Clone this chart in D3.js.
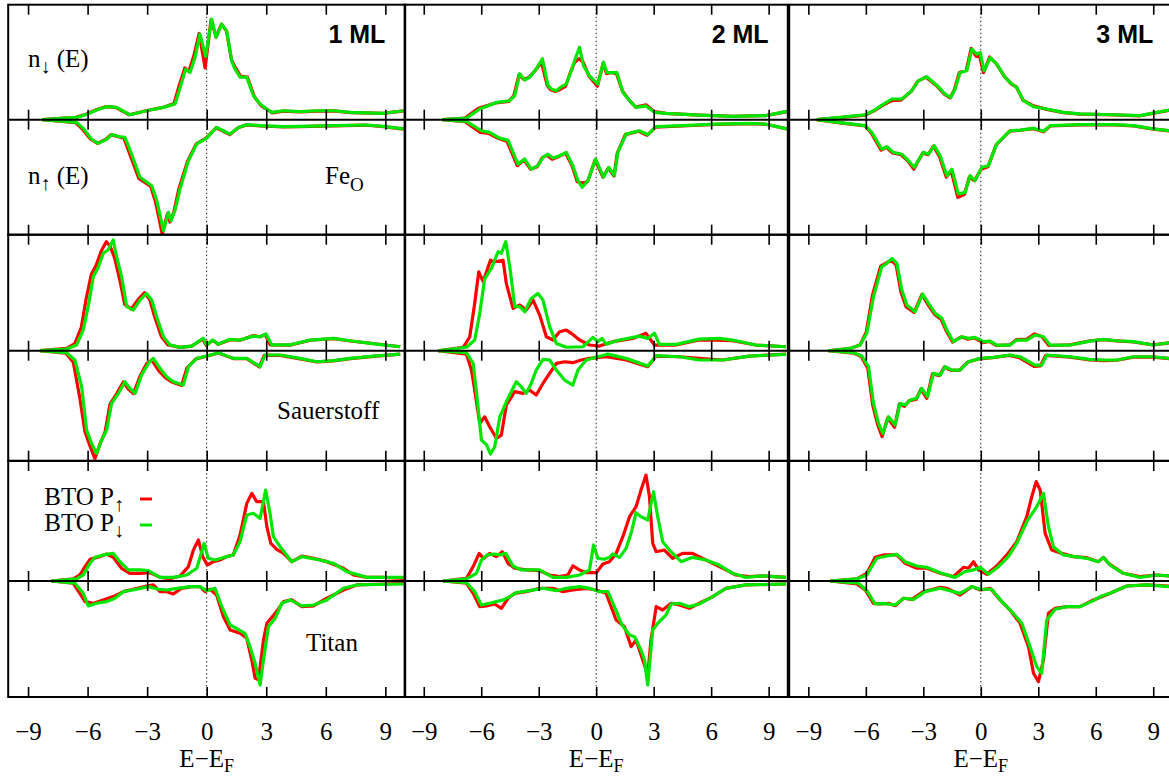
<!DOCTYPE html>
<html>
<head>
<meta charset="utf-8">
<script src="https://cdn.jsdelivr.net/npm/d3@7"></script>
<style>
    body { margin: 0; background: #fff; }
</style>
</head>
<body>
<div id="dosGrid"></div>
<script>

// tick energies and labels
var tickEnergies = [-9, -6, -3, 0, 3, 6, 9];
var columnTitles = ["1 ML", "2 ML", "3 ML"];
var rowLabels = [["Fe", "O"], ["Sauerstoff", ""], ["Titan", ""]];
var spinLabels = [["n", "\u2193", " (E)"], ["n", "\u2191", " (E)"]];
var legendLabels = [["BTO P", "\u2191"], ["BTO P", "\u2193"]];
var xLabel = ["E\u2212E", "F"];

// DOS curves, [E - E_F, value]; up half = n_down, lower half = -n_up
// R = BTO P-up (red), G = BTO P-down (green)

// ---- Fe_O ----
var fe1_upR = [[-8.27,0],[-6.6,0.02],[-6.05,0.05],[-5.6,0.084],[-5.1,0.113],[-4.6,0.107],[-3.9,0.043],[-3.05,0.078],[-2.2,0.107],[-1.65,0.14],[-1.4,0.29],[-1.1,0.45],[-0.9,0.42],[-0.64,0.56],[-0.38,0.75],[-0.08,0.45],[0.22,0.87],[0.47,0.72],[0.74,0.83],[1.0,0.77],[1.25,0.52],[1.45,0.45],[1.7,0.38],[2.05,0.37],[2.4,0.2],[2.75,0.12],[3.0,0.095],[3.3,0.06],[3.87,0.075],[4.7,0.068],[5.55,0.075],[6.4,0.076],[7.23,0.062],[8.9,0.055],[9.92,0.076]];
var fe1_upG = [[-8.27,0],[-6.55,0.02],[-6.0,0.05],[-5.55,0.084],[-5.04,0.113],[-4.54,0.107],[-3.87,0.043],[-3.03,0.078],[-2.18,0.107],[-1.6,0.136],[-1.34,0.28],[-1.06,0.44],[-0.84,0.41],[-0.59,0.54],[-0.34,0.745],[-0.05,0.55],[0.25,0.875],[0.47,0.716],[0.76,0.83],[1.01,0.77],[1.26,0.51],[1.43,0.44],[1.68,0.37],[2.02,0.37],[2.35,0.21],[2.69,0.136],[3.03,0.093],[3.28,0.064],[3.87,0.078],[4.7,0.07],[5.55,0.078],[6.4,0.078],[7.23,0.064],[8.9,0.055],[9.92,0.078]];
var fe1_dnR = [[-8.27,0],[-6.6,-0.025],[-6.25,-0.085],[-5.85,-0.17],[-5.5,-0.206],[-5.08,-0.17],[-4.82,-0.13],[-4.4,-0.15],[-4.17,-0.16],[-3.85,-0.31],[-3.42,-0.51],[-2.82,-0.58],[-2.57,-0.72],[-2.24,-0.995],[-1.98,-0.82],[-1.85,-0.89],[-1.65,-0.8],[-1.4,-0.6],[-0.96,-0.36],[-0.53,-0.21],[-0.03,-0.16],[0.48,-0.07],[0.82,-0.1],[1.16,-0.13],[1.58,-0.07],[2.0,-0.045],[2.69,-0.055],[3.87,-0.062],[4.7,-0.06],[6.4,-0.054],[8.07,-0.048],[8.9,-0.06],[9.92,-0.082]];
var fe1_dnG = [[-8.27,0],[-6.55,-0.023],[-6.2,-0.08],[-5.8,-0.17],[-5.46,-0.206],[-5.04,-0.17],[-4.79,-0.13],[-4.37,-0.148],[-4.12,-0.154],[-3.78,-0.3],[-3.36,-0.5],[-2.77,-0.574],[-2.52,-0.7],[-2.18,-0.965],[-1.93,-0.806],[-1.8,-0.878],[-1.6,-0.79],[-1.34,-0.6],[-0.92,-0.357],[-0.5,-0.21],[0,-0.16],[0.5,-0.067],[0.84,-0.096],[1.18,-0.125],[1.6,-0.067],[2.02,-0.043],[2.69,-0.052],[3.87,-0.06],[4.7,-0.058],[6.4,-0.052],[8.07,-0.046],[8.9,-0.058],[9.92,-0.08]];

var fe2_upR = [[-8.02,0],[-6.85,0.014],[-6.15,0.1],[-5.25,0.145],[-4.55,0.16],[-4.3,0.21],[-4.03,0.39],[-3.77,0.35],[-3.5,0.37],[-3.17,0.43],[-2.86,0.5],[-2.56,0.3],[-2.38,0.26],[-2.12,0.245],[-1.86,0.265],[-1.6,0.29],[-1.35,0.41],[-1.12,0.5],[-0.9,0.53],[-0.68,0.5],[-0.38,0.38],[0.06,0.29],[0.36,0.49],[0.54,0.4],[0.76,0.41],[1.06,0.4],[1.37,0.25],[1.72,0.17],[2.06,0.11],[2.6,0.13],[3.04,0.07],[3.65,0.055],[5.38,0.04],[7.12,0.03],[8.85,0.035],[9.95,0.07]];
var fe2_upG = [[-8.02,0],[-6.77,0.014],[-6.08,0.093],[-5.2,0.15],[-4.51,0.165],[-4.25,0.21],[-3.99,0.4],[-3.73,0.345],[-3.47,0.37],[-3.13,0.44],[-2.81,0.53],[-2.52,0.3],[-2.34,0.267],[-2.08,0.252],[-1.82,0.287],[-1.56,0.31],[-1.3,0.426],[-1.09,0.53],[-0.87,0.63],[-0.66,0.47],[-0.35,0.38],[0.09,0.31],[0.38,0.5],[0.56,0.41],[0.78,0.41],[1.08,0.41],[1.39,0.24],[1.74,0.165],[2.08,0.107],[2.6,0.12],[3.04,0.064],[3.65,0.055],[5.38,0.04],[7.12,0.029],[8.85,0.035],[9.95,0.072]];
var fe2_dnR = [[-8.02,0],[-6.85,-0.018],[-6.05,-0.11],[-5.6,-0.12],[-5.15,-0.16],[-4.65,-0.19],[-4.12,-0.4],[-3.77,-0.35],[-3.43,-0.43],[-3.08,-0.41],[-2.82,-0.33],[-2.56,-0.31],[-2.3,-0.345],[-1.95,-0.32],[-1.6,-0.29],[-1.26,-0.4],[-0.99,-0.54],[-0.75,-0.55],[-0.45,-0.54],[-0.06,-0.35],[0.35,-0.5],[0.64,-0.42],[0.93,-0.49],[1.1,-0.29],[1.52,-0.13],[2.22,-0.1],[2.66,-0.135],[3.1,-0.065],[4.51,-0.055],[6.25,-0.04],[7.99,-0.034],[8.85,-0.04],[9.95,-0.08]];
var fe2_dnG = [[-8.02,0],[-6.77,-0.014],[-5.99,-0.096],[-5.56,-0.11],[-5.12,-0.154],[-4.6,-0.18],[-4.08,-0.386],[-3.73,-0.342],[-3.39,-0.43],[-3.04,-0.4],[-2.78,-0.328],[-2.52,-0.3],[-2.26,-0.333],[-1.91,-0.313],[-1.56,-0.284],[-1.22,-0.4],[-0.95,-0.53],[-0.73,-0.588],[-0.43,-0.53],[-0.03,-0.342],[0.38,-0.5],[0.66,-0.414],[0.95,-0.487],[1.13,-0.284],[1.56,-0.125],[2.26,-0.096],[2.69,-0.13],[3.13,-0.06],[4.51,-0.052],[6.25,-0.038],[7.99,-0.032],[8.85,-0.038],[9.95,-0.08]];

var fe3_upR = [[-8.56,0],[-7.34,0.018],[-6.03,0.04],[-5.6,0.075],[-5.12,0.125],[-4.68,0.165],[-4.16,0.17],[-3.64,0.245],[-3.28,0.335],[-2.86,0.37],[-2.34,0.3],[-1.9,0.223],[-1.6,0.19],[-1.38,0.26],[-1.12,0.41],[-0.76,0.43],[-0.5,0.62],[-0.24,0.55],[-0.06,0.55],[0.14,0.41],[0.46,0.545],[0.8,0.49],[1.24,0.375],[1.6,0.31],[1.86,0.285],[2.2,0.17],[2.75,0.12],[3.44,0.09],[4.31,0.062],[5.18,0.048],[6.92,0.042],[8.31,0.034],[9.18,0.062],[9.83,0.082]];
var fe3_upG = [[-8.56,0],[-7.34,0.02],[-6.03,0.043],[-5.6,0.078],[-5.08,0.136],[-4.64,0.18],[-4.12,0.18],[-3.6,0.252],[-3.25,0.34],[-2.82,0.374],[-2.3,0.3],[-1.86,0.223],[-1.57,0.194],[-1.34,0.267],[-1.08,0.41],[-0.73,0.426],[-0.47,0.614],[-0.21,0.57],[-0.03,0.585],[0.17,0.426],[0.49,0.54],[0.83,0.484],[1.27,0.368],[1.62,0.31],[1.88,0.28],[2.23,0.165],[2.75,0.113],[3.44,0.093],[4.31,0.064],[5.18,0.05],[6.92,0.043],[8.31,0.035],[9.18,0.064],[9.83,0.084]];
var fe3_dnR = [[-8.56,0],[-7.34,-0.028],[-6.03,-0.055],[-5.72,-0.115],[-5.2,-0.265],[-4.93,-0.24],[-4.6,-0.29],[-4.16,-0.305],[-3.8,-0.36],[-3.5,-0.43],[-3.03,-0.29],[-2.76,-0.305],[-2.47,-0.23],[-2.16,-0.32],[-1.8,-0.5],[-1.55,-0.44],[-1.2,-0.675],[-0.86,-0.65],[-0.6,-0.5],[-0.33,-0.53],[0.02,-0.43],[0.37,-0.41],[0.8,-0.22],[1.5,-0.1],[2.05,-0.092],[2.75,-0.078],[3.27,-0.105],[3.62,-0.055],[5.18,-0.045],[6.92,-0.045],[7.97,-0.054],[9.0,-0.082],[9.83,-0.098]];
var fe3_dnG = [[-8.56,0],[-7.34,-0.026],[-6.03,-0.052],[-5.69,-0.11],[-5.17,-0.255],[-4.9,-0.235],[-4.56,-0.284],[-4.12,-0.3],[-3.77,-0.357],[-3.48,-0.414],[-3.0,-0.284],[-2.73,-0.3],[-2.43,-0.226],[-2.12,-0.313],[-1.77,-0.487],[-1.51,-0.43],[-1.17,-0.646],[-0.82,-0.632],[-0.56,-0.487],[-0.3,-0.53],[0.05,-0.414],[0.4,-0.4],[0.83,-0.21],[1.53,-0.096],[2.05,-0.09],[2.75,-0.075],[3.27,-0.1],[3.62,-0.052],[5.18,-0.043],[6.92,-0.043],[7.97,-0.052],[9.0,-0.08],[9.83,-0.096]];

// ---- Sauerstoff ----
var ox1_upR = [[-8.4,0],[-7.06,0.02],[-6.65,0.06],[-6.32,0.2],[-6.07,0.45],[-5.81,0.66],[-5.56,0.74],[-5.31,0.86],[-5.06,0.94],[-4.86,0.9],[-4.64,0.8],[-4.39,0.62],[-4.13,0.4],[-3.8,0.36],[-3.46,0.44],[-3.13,0.5],[-2.87,0.44],[-2.62,0.29],[-2.28,0.12],[-1.95,0.05],[-1.34,0.029],[-0.76,0.04],[-0.2,0.1],[-0.02,0.045],[0.3,0.09],[0.59,0.055],[1.18,0.095],[1.68,0.09],[2.35,0.13],[2.69,0.12],[2.95,0.14],[3.2,0.05],[4.2,0.048],[5.21,0.09],[6.39,0.104],[7.23,0.084],[8.57,0.058],[9.75,0.034]];
var ox1_upG = [[-8.4,0],[-7.06,0.014],[-6.55,0.05],[-6.22,0.18],[-5.97,0.38],[-5.71,0.64],[-5.46,0.72],[-5.21,0.84],[-4.96,0.87],[-4.71,0.954],[-4.54,0.81],[-4.29,0.64],[-4.03,0.38],[-3.7,0.35],[-3.36,0.437],[-3.03,0.494],[-2.77,0.437],[-2.52,0.293],[-2.18,0.12],[-1.85,0.05],[-1.34,0.029],[-0.76,0.04],[-0.17,0.106],[0,0.05],[0.3,0.092],[0.59,0.057],[1.18,0.098],[1.68,0.092],[2.35,0.126],[2.69,0.12],[2.99,0.144],[3.28,0.05],[4.2,0.05],[5.21,0.092],[6.39,0.106],[7.23,0.086],[8.57,0.057],[9.75,0.034]];
var ox1_dnR = [[-8.4,0],[-7.1,-0.02],[-6.72,-0.1],[-6.4,-0.4],[-6.13,-0.7],[-5.88,-0.82],[-5.63,-0.93],[-5.37,-0.8],[-5.12,-0.7],[-4.87,-0.46],[-4.53,-0.37],[-4.2,-0.27],[-3.95,-0.33],[-3.69,-0.37],[-3.36,-0.22],[-3.02,-0.11],[-2.77,-0.08],[-2.43,-0.17],[-2.1,-0.23],[-1.76,-0.27],[-1.26,-0.3],[-1.0,-0.15],[-0.55,-0.07],[0,-0.048],[0.59,-0.02],[1.34,-0.068],[2.02,-0.068],[2.65,-0.14],[2.9,-0.04],[3.7,-0.04],[4.71,-0.07],[5.55,-0.097],[6.39,-0.088],[7.23,-0.068],[8.4,-0.048],[9.75,-0.03]];
var ox1_dnG = [[-8.4,0],[-7.06,-0.017],[-6.64,-0.08],[-6.3,-0.31],[-6.05,-0.684],[-5.8,-0.8],[-5.55,-0.885],[-5.29,-0.77],[-5.04,-0.684],[-4.79,-0.454],[-4.45,-0.368],[-4.12,-0.267],[-3.87,-0.325],[-3.61,-0.368],[-3.28,-0.21],[-2.94,-0.11],[-2.69,-0.066],[-2.35,-0.152],[-2.02,-0.224],[-1.68,-0.267],[-1.18,-0.296],[-0.92,-0.138],[-0.5,-0.066],[0,-0.046],[0.59,-0.017],[1.34,-0.066],[2.02,-0.066],[2.69,-0.138],[2.94,-0.037],[3.7,-0.037],[4.71,-0.066],[5.55,-0.095],[6.39,-0.086],[7.23,-0.066],[8.4,-0.046],[9.75,-0.029]];

var ox2_upR = [[-8.25,0],[-6.94,0.03],[-6.6,0.12],[-6.34,0.41],[-6.13,0.68],[-5.9,0.595],[-5.52,0.78],[-5.3,0.767],[-4.86,0.78],[-4.69,0.58],[-4.34,0.365],[-3.99,0.394],[-3.65,0.35],[-3.3,0.437],[-2.95,0.307],[-2.6,0.12],[-2.26,0.092],[-1.91,0.164],[-1.56,0.178],[-1.3,0.15],[-0.87,0.092],[-0.35,0.049],[0.17,0.04],[0.87,0.078],[1.91,0.106],[2.6,0.15],[3.04,0.049],[4.17,0.049],[5.38,0.092],[6.25,0.092],[7.12,0.086],[8.33,0.049],[9.9,0.034]];
var ox2_upG = [[-8.25,0],[-6.77,0.03],[-6.34,0.092],[-6.08,0.32],[-5.82,0.62],[-5.47,0.71],[-5.12,0.853],[-4.95,0.84],[-4.72,0.94],[-4.51,0.724],[-4.25,0.38],[-3.99,0.38],[-3.73,0.336],[-3.39,0.45],[-3.04,0.494],[-2.78,0.437],[-2.43,0.207],[-2.08,0.063],[-1.56,0.03],[-0.69,0.034],[-0.17,0.115],[0.09,0.078],[0.3,0.106],[0.52,0.057],[1.22,0.092],[2.26,0.126],[2.69,0.106],[3.04,0.15],[3.3,0.055],[4.17,0.055],[5.38,0.1],[6.42,0.106],[7.12,0.092],[8.33,0.049],[9.9,0.034]];
var ox2_dnR = [[-8.25,0],[-6.77,-0.03],[-6.51,-0.167],[-6.34,-0.34],[-6.08,-0.626],[-5.82,-0.57],[-5.56,-0.655],[-5.21,-0.755],[-4.95,-0.727],[-4.69,-0.468],[-4.25,-0.353],[-3.82,-0.368],[-3.47,-0.34],[-3.13,-0.382],[-2.78,-0.282],[-2.43,-0.195],[-2.08,-0.109],[-1.65,-0.095],[-1.22,-0.103],[-0.78,-0.08],[-0.35,-0.066],[0.52,-0.052],[1.56,-0.08],[2.69,-0.138],[3.13,-0.046],[4.34,-0.052],[5.38,-0.066],[6.6,-0.08],[7.99,-0.046],[9.9,-0.029]];
var ox2_dnG = [[-8.25,0],[-6.77,-0.017],[-6.42,-0.11],[-6.22,-0.4],[-5.99,-0.77],[-5.73,-0.81],[-5.52,-0.89],[-5.3,-0.83],[-5.03,-0.57],[-4.69,-0.44],[-4.17,-0.267],[-3.91,-0.31],[-3.65,-0.368],[-3.39,-0.282],[-3.13,-0.167],[-2.78,-0.075],[-2.43,-0.08],[-2.08,-0.167],[-1.65,-0.253],[-1.22,-0.296],[-0.95,-0.167],[-0.52,-0.08],[0,-0.057],[0.61,-0.029],[1.56,-0.066],[2.69,-0.132],[3.13,-0.043],[4.34,-0.052],[5.38,-0.08],[6.6,-0.08],[7.99,-0.046],[9.9,-0.032]];

var ox3_upR = [[-7.95,0],[-6.82,0.02],[-6.3,0.05],[-5.98,0.16],[-5.65,0.48],[-5.22,0.73],[-4.95,0.755],[-4.68,0.78],[-4.42,0.74],[-4.16,0.5],[-3.9,0.38],[-3.48,0.33],[-3.07,0.485],[-2.77,0.4],[-2.42,0.315],[-2.07,0.27],[-1.8,0.17],[-1.47,0.075],[-1.03,0.12],[-0.68,0.1],[-0.34,0.11],[0.1,0.07],[0.45,0.08],[0.8,0.045],[1.5,0.05],[1.85,0.095],[2.4,0.1],[2.8,0.145],[3.2,0.12],[3.55,0.045],[4.66,0.05],[5.7,0.085],[6.4,0.095],[7.1,0.085],[7.97,0.075],[9.0,0.05],[9.83,0.068]];
var ox3_upG = [[-7.95,0],[-6.82,0.02],[-6.3,0.049],[-5.95,0.15],[-5.6,0.466],[-5.17,0.724],[-4.9,0.753],[-4.64,0.796],[-4.38,0.753],[-4.12,0.523],[-3.86,0.394],[-3.43,0.336],[-3.03,0.489],[-2.73,0.408],[-2.38,0.322],[-2.03,0.279],[-1.77,0.178],[-1.43,0.078],[-0.99,0.12],[-0.64,0.106],[-0.3,0.115],[0.14,0.078],[0.49,0.083],[0.83,0.049],[1.53,0.049],[1.88,0.092],[2.4,0.092],[2.83,0.135],[3.27,0.12],[3.62,0.049],[4.66,0.049],[5.7,0.083],[6.4,0.098],[7.1,0.086],[7.97,0.078],[9.0,0.049],[9.83,0.069]];
var ox3_dnR = [[-7.95,0],[-6.64,-0.02],[-6.24,-0.05],[-5.9,-0.15],[-5.64,-0.47],[-5.38,-0.64],[-5.15,-0.74],[-4.86,-0.58],[-4.5,-0.66],[-4.25,-0.46],[-3.99,-0.48],[-3.73,-0.43],[-3.38,-0.42],[-3.12,-0.33],[-2.82,-0.41],[-2.52,-0.2],[-2.16,-0.215],[-1.9,-0.14],[-1.55,-0.17],[-1.12,-0.17],[-0.7,-0.1],[-0.08,-0.07],[0.6,-0.06],[1.5,-0.04],[2.0,-0.06],[2.78,-0.135],[3.12,-0.13],[3.38,-0.04],[4.66,-0.055],[5.7,-0.08],[6.4,-0.085],[7.1,-0.082],[7.97,-0.055],[9.0,-0.055],[9.83,-0.068]];
var ox3_dnG = [[-7.95,0],[-6.64,-0.017],[-6.21,-0.046],[-5.86,-0.138],[-5.6,-0.454],[-5.34,-0.626],[-5.11,-0.713],[-4.82,-0.569],[-4.47,-0.64],[-4.21,-0.454],[-3.95,-0.468],[-3.69,-0.425],[-3.34,-0.41],[-3.08,-0.325],[-2.78,-0.397],[-2.47,-0.195],[-2.12,-0.21],[-1.86,-0.138],[-1.51,-0.167],[-1.08,-0.167],[-0.64,-0.095],[-0.03,-0.066],[0.66,-0.057],[1.53,-0.037],[2.05,-0.052],[2.83,-0.124],[3.18,-0.124],[3.44,-0.037],[4.66,-0.052],[5.7,-0.075],[6.4,-0.08],[7.1,-0.08],[7.97,-0.052],[9.0,-0.052],[9.83,-0.066]];

// ---- Titan ----
var ti1_upR = [[-7.82,0],[-6.72,0.017],[-6.39,0.05],[-6.13,0.12],[-5.88,0.18],[-5.38,0.203],[-5.04,0.225],[-4.71,0.197],[-4.29,0.106],[-3.87,0.064],[-3.36,0.064],[-2.86,0.07],[-2.35,0.03],[-1.85,0.019],[-1.34,0.042],[-0.92,0.12],[-0.67,0.258],[-0.42,0.342],[-0.2,0.203],[0.03,0.133],[0.34,0.161],[0.67,0.175],[1.01,0.203],[1.34,0.217],[1.68,0.383],[2.02,0.647],[2.27,0.73],[2.52,0.661],[2.86,0.661],[3.03,0.453],[3.23,0.314],[3.53,0.264],[3.87,0.23],[4.29,0.161],[4.79,0.208],[5.38,0.189],[6.05,0.161],[6.89,0.106],[7.39,0.05],[8.07,0.03],[8.9,0.03],[9.92,0.022]];
var ti1_upG = [[-7.82,0],[-6.55,0.017],[-6.22,0.05],[-5.88,0.147],[-5.63,0.197],[-5.21,0.217],[-4.71,0.23],[-4.37,0.161],[-3.95,0.092],[-3.36,0.092],[-2.94,0.086],[-2.35,0.03],[-1.68,0.03],[-1.01,0.05],[-0.5,0.106],[-0.25,0.244],[-0.13,0.314],[0.08,0.189],[0.42,0.175],[1.01,0.203],[1.34,0.217],[1.68,0.328],[2.02,0.55],[2.35,0.564],[2.69,0.522],[2.97,0.758],[3.19,0.564],[3.36,0.369],[3.7,0.286],[4.29,0.161],[4.79,0.203],[5.71,0.175],[6.39,0.147],[7.06,0.078],[8.07,0.03],[9.92,0.03]];
var ti1_dnR = [[-7.82,0],[-6.72,-0.019],[-6.39,-0.103],[-6.13,-0.172],[-5.71,-0.186],[-5.21,-0.158],[-4.71,-0.13],[-4.2,-0.089],[-3.7,-0.069],[-3.03,-0.042],[-2.69,-0.033],[-2.35,-0.089],[-2.02,-0.089],[-1.68,-0.108],[-1.26,-0.061],[-0.76,-0.047],[-0.34,-0.047],[-0.08,-0.089],[0.17,-0.069],[0.5,-0.117],[0.84,-0.297],[1.18,-0.408],[1.68,-0.436],[2.02,-0.478],[2.27,-0.658],[2.44,-0.81],[2.61,-0.825],[2.86,-0.492],[3.03,-0.353],[3.45,-0.27],[3.87,-0.172],[4.29,-0.158],[4.79,-0.214],[5.38,-0.208],[6.05,-0.144],[6.89,-0.075],[7.56,-0.033],[8.9,-0.025],[9.92,-0.019]];
var ti1_dnG = [[-7.82,0],[-6.64,-0.019],[-6.22,-0.103],[-5.97,-0.208],[-5.55,-0.186],[-5.04,-0.172],[-4.62,-0.144],[-4.2,-0.089],[-3.53,-0.069],[-2.94,-0.047],[-2.44,-0.069],[-2.02,-0.075],[-1.51,-0.061],[-0.84,-0.047],[-0.34,-0.047],[0,-0.081],[0.42,-0.061],[0.76,-0.214],[1.18,-0.367],[1.51,-0.397],[1.93,-0.436],[2.18,-0.547],[2.44,-0.686],[2.69,-0.867],[2.86,-0.658],[3.11,-0.381],[3.45,-0.311],[3.78,-0.186],[4.2,-0.158],[4.79,-0.208],[5.38,-0.2],[6.05,-0.158],[6.89,-0.061],[7.56,-0.033],[9.92,-0.025]];

var ti2_upR = [[-7.99,0],[-6.77,0.022],[-6.42,0.12],[-6.11,0.23],[-5.87,0.186],[-5.56,0.23],[-5.21,0.203],[-4.9,0.244],[-4.6,0.147],[-4.25,0.106],[-3.65,0.092],[-2.95,0.086],[-2.43,0.05],[-1.91,0.036],[-1.48,0.05],[-1.22,0.125],[-0.87,0.092],[-0.52,0.069],[0,0.069],[0.35,0.142],[0.69,0.161],[1.04,0.23],[1.39,0.369],[1.74,0.536],[2.08,0.619],[2.34,0.758],[2.6,0.883],[2.78,0.703],[2.95,0.314],[3.13,0.244],[3.56,0.258],[3.99,0.189],[4.51,0.23],[5.03,0.23],[5.38,0.203],[6.08,0.147],[6.77,0.092],[7.29,0.05],[7.99,0.036],[8.68,0.042],[9.9,0.03]];
var ti2_upG = [[-7.99,0],[-6.77,0.017],[-6.25,0.064],[-5.99,0.175],[-5.69,0.217],[-5.3,0.225],[-5.03,0.217],[-4.72,0.23],[-4.34,0.125],[-3.91,0.092],[-2.95,0.092],[-2.26,0.03],[-1.56,0.03],[-0.87,0.05],[-0.35,0.092],[-0.14,0.3],[0.09,0.189],[0.43,0.181],[0.69,0.197],[0.87,0.225],[1.22,0.197],[1.56,0.272],[1.82,0.397],[2.08,0.569],[2.34,0.536],[2.69,0.508],[2.99,0.744],[3.21,0.536],[3.47,0.328],[3.82,0.258],[4.43,0.161],[5.03,0.197],[5.73,0.175],[6.42,0.133],[7.12,0.064],[7.81,0.03],[8.68,0.042],[9.9,0.03]];
var ti2_dnR = [[-7.99,0],[-6.77,-0.019],[-6.42,-0.103],[-6.08,-0.214],[-5.73,-0.208],[-5.3,-0.192],[-4.95,-0.228],[-4.6,-0.144],[-4.25,-0.103],[-3.65,-0.089],[-2.95,-0.061],[-2.26,-0.061],[-1.74,-0.089],[-1.22,-0.075],[-0.52,-0.061],[0,-0.075],[0.52,-0.103],[1.04,-0.325],[1.48,-0.381],[1.82,-0.547],[2.08,-0.492],[2.43,-0.658],[2.69,-0.783],[2.86,-0.492],[3.13,-0.214],[3.47,-0.242],[3.91,-0.186],[4.34,-0.2],[4.86,-0.228],[5.38,-0.186],[6.08,-0.131],[6.77,-0.061],[7.81,-0.033],[9.9,-0.025]];
var ti2_dnG = [[-7.99,0],[-6.77,-0.014],[-6.34,-0.089],[-5.99,-0.2],[-5.56,-0.186],[-5.21,-0.172],[-4.86,-0.158],[-4.51,-0.131],[-4.17,-0.097],[-3.47,-0.081],[-2.78,-0.061],[-2.08,-0.081],[-1.56,-0.061],[-0.87,-0.047],[-0.35,-0.061],[0.17,-0.089],[0.61,-0.089],[0.95,-0.214],[1.35,-0.367],[1.74,-0.45],[2.0,-0.464],[2.34,-0.575],[2.52,-0.658],[2.69,-0.867],[2.95,-0.408],[3.21,-0.353],[3.65,-0.283],[3.91,-0.192],[4.34,-0.186],[4.86,-0.214],[5.38,-0.192],[6.08,-0.131],[6.77,-0.061],[7.81,-0.033],[9.9,-0.025]];

var ti3_upR = [[-7.86,0],[-6.47,0.017],[-5.95,0.064],[-5.51,0.197],[-5.08,0.217],[-4.38,0.217],[-3.95,0.147],[-3.34,0.106],[-2.82,0.106],[-2.12,0.064],[-1.43,0.036],[-0.9,0.114],[-0.64,0.106],[-0.38,0.161],[-0.12,0.092],[0.31,0.056],[0.83,0.125],[1.36,0.217],[1.88,0.328],[2.4,0.536],[2.66,0.703],[2.89,0.828],[3.1,0.758],[3.36,0.397],[3.7,0.258],[4.23,0.23],[4.83,0.203],[5.53,0.194],[6.14,0.161],[6.4,0.197],[6.66,0.147],[7.44,0.064],[8.31,0.036],[9.18,0.05],[9.83,0.042]];
var ti3_upG = [[-7.86,0],[-6.47,0.017],[-5.95,0.05],[-5.43,0.189],[-4.9,0.208],[-4.38,0.222],[-3.95,0.161],[-3.34,0.125],[-2.82,0.114],[-2.12,0.069],[-1.34,0.03],[-0.82,0.078],[-0.38,0.092],[-0.03,0.114],[0.4,0.056],[0.92,0.119],[1.44,0.203],[1.88,0.314],[2.4,0.494],[2.92,0.619],[3.27,0.731],[3.53,0.453],[3.79,0.286],[4.31,0.217],[4.92,0.203],[5.53,0.189],[6.14,0.161],[6.4,0.197],[6.75,0.133],[7.44,0.064],[8.31,0.03],[9.18,0.05],[9.83,0.042]];
var ti3_dnR = [[-7.86,0],[-6.47,-0.025],[-6.03,-0.075],[-5.6,-0.186],[-5.25,-0.192],[-4.82,-0.186],[-4.47,-0.206],[-4.03,-0.144],[-3.6,-0.153],[-3.0,-0.089],[-2.64,-0.075],[-2.12,-0.053],[-1.77,-0.061],[-1.08,-0.117],[-0.47,-0.047],[-0.03,-0.075],[0.49,-0.061],[1.01,-0.158],[1.53,-0.242],[2.05,-0.353],[2.49,-0.547],[2.75,-0.769],[3.01,-0.839],[3.27,-0.658],[3.53,-0.269],[3.88,-0.228],[4.49,-0.214],[5.18,-0.214],[5.88,-0.158],[6.31,-0.131],[6.75,-0.103],[7.62,-0.042],[8.66,-0.033],[9.83,-0.042]];
var ti3_dnG = [[-7.86,0],[-6.38,-0.019],[-5.95,-0.081],[-5.51,-0.192],[-5.08,-0.186],[-4.47,-0.2],[-4.03,-0.144],[-3.51,-0.153],[-2.9,-0.089],[-2.12,-0.061],[-1.08,-0.103],[-0.47,-0.047],[-0.03,-0.069],[0.57,-0.069],[1.1,-0.172],[1.62,-0.256],[2.14,-0.353],[2.54,-0.533],[2.92,-0.714],[3.18,-0.769],[3.44,-0.325],[3.88,-0.236],[4.49,-0.214],[5.18,-0.214],[5.88,-0.164],[6.31,-0.125],[6.75,-0.103],[7.62,-0.042],[8.66,-0.033],[9.83,-0.047]];


var SERIF = "'Liberation Serif', 'Times New Roman', 'DejaVu Serif', serif";
var SANS = "'Liberation Sans', Arial, sans-serif";

function DosGrid(id) {
    var self = this;
    self.sectionId = id;
    self.initVis();
}

DosGrid.prototype.initVis = function () {
    var self = this;

    self.svgWidth = 1169;
    self.svgHeight = 778;
    self.red = "#ff0000";
    self.green = "#00e600";

    // gnuplot multiplot: columns are not all the same width
    self.cols = [
        { x0: 8.2, x1: 405.2 },
        { x0: 404.6, x1: 787.8 },
        { x0: 789.2, x1: 1172.4 }
    ];
    self.rows = [
        { top: 4.7, bottom: 234.7, domain: [-1, 1] },
        { top: 234.7, bottom: 460.7, domain: [-0.948, 1] },
        { top: 461, bottom: 697, domain: [-0.967, 1] }
    ];

    self.svg = d3.select(`#${self.sectionId}`)
        .append("svg")
        .attr("width", self.svgWidth)
        .attr("height", self.svgHeight)
        .style("display", "block");

    self.svg.append("rect")
        .attr("width", self.svgWidth)
        .attr("height", self.svgHeight)
        .attr("fill", "#fff");

    var panels = [
        { row: 0, col: 0, upR: fe1_upR, upG: fe1_upG, dnR: fe1_dnR, dnG: fe1_dnG },
        { row: 0, col: 1, upR: fe2_upR, upG: fe2_upG, dnR: fe2_dnR, dnG: fe2_dnG },
        { row: 0, col: 2, upR: fe3_upR, upG: fe3_upG, dnR: fe3_dnR, dnG: fe3_dnG },
        { row: 1, col: 0, upR: ox1_upR, upG: ox1_upG, dnR: ox1_dnR, dnG: ox1_dnG },
        { row: 1, col: 1, upR: ox2_upR, upG: ox2_upG, dnR: ox2_dnR, dnG: ox2_dnG },
        { row: 1, col: 2, upR: ox3_upR, upG: ox3_upG, dnR: ox3_dnR, dnG: ox3_dnG },
        { row: 2, col: 0, upR: ti1_upR, upG: ti1_upG, dnR: ti1_dnR, dnG: ti1_dnG },
        { row: 2, col: 1, upR: ti2_upR, upG: ti2_upG, dnR: ti2_dnR, dnG: ti2_dnG },
        { row: 2, col: 2, upR: ti3_upR, upG: ti3_upG, dnR: ti3_dnR, dnG: ti3_dnG }
    ];

    panels.forEach(function (p, i) {
        self.drawPanel(p, i);
    });

    self.drawLabels();
}


DosGrid.prototype.drawPanel = function (p, i) {
    var self = this;
    var col = self.cols[p.col];
    var row = self.rows[p.row];

    var x = d3.scaleLinear().domain([-10, 10]).range([col.x0, col.x1]);
    var y = d3.scaleLinear().domain(row.domain).range([row.bottom, row.top]);

    var g = self.svg.append("g");

    g.append("clipPath")
        .attr("id", "clip" + i)
        .append("rect")
        .attr("x", col.x0)
        .attr("y", row.top)
        .attr("width", col.x1 - col.x0)
        .attr("height", row.bottom - row.top);

    // fermi level
    g.append("line")
        .attr("x1", x(0)).attr("x2", x(0))
        .attr("y1", row.top).attr("y2", row.bottom)
        .attr("stroke", "#222")
        .attr("stroke-width", 1)
        .attr("stroke-dasharray", "1.5,2.5");

    var line = d3.line()
        .x(function (d) { return x(d[0]); })
        .y(function (d) { return y(d[1]); });

    var curves = [[p.upR, self.red], [p.dnR, self.red], [p.upG, self.green], [p.dnG, self.green]];
    g.append("g")
        .attr("clip-path", "url(#clip" + i + ")")
        .selectAll("path")
        .data(curves)
        .enter()
        .append("path")
        .attr("d", function (d) { return line(d[0]); })
        .attr("fill", "none")
        .attr("stroke", function (d) { return d[1]; })
        .attr("stroke-width", 3.2)
        .attr("stroke-linejoin", "round");

    // zero line between the two spin channels
    g.append("line")
        .attr("x1", col.x0).attr("x2", col.x1)
        .attr("y1", y(0)).attr("y2", y(0))
        .attr("stroke", "#000")
        .attr("stroke-width", 2);

    // inward ticks on every horizontal border
    var tickAxes = [
        [d3.axisTop(x).tickSize(-10), row.top],
        [d3.axisTop(x).tickSize(10), y(0)],
        [d3.axisBottom(x).tickSize(10), y(0)],
        [d3.axisBottom(x).tickSize(-10), row.bottom]
    ];
    tickAxes.forEach(function (a) {
        var ax = g.append("g")
            .attr("transform", "translate(0," + a[1] + ")")
            .call(a[0].tickValues(tickEnergies).tickFormat(""));
        ax.select(".domain").remove();
        ax.selectAll("line").attr("stroke", "#000").attr("stroke-width", 1.6);
    });

    g.append("rect")
        .attr("x", col.x0)
        .attr("y", row.top)
        .attr("width", col.x1 - col.x0)
        .attr("height", row.bottom - row.top)
        .attr("fill", "none")
        .attr("stroke", "#000")
        .attr("stroke-width", 2);

    if (p.row == 0) {
        g.append("text")
            .attr("x", x(9))
            .attr("y", row.top + 38)
            .attr("text-anchor", "end")
            .attr("font-family", SANS)
            .attr("font-weight", "bold")
            .attr("font-size", 25)
            .text(columnTitles[p.col]);
    }

    if (p.row == 2) {
        var bottomAxis = g.append("g")
            .attr("transform", "translate(0," + row.bottom + ")")
            .call(d3.axisBottom(x).tickValues(tickEnergies).tickSize(0).tickPadding(25));
        bottomAxis.attr("font-family", SERIF).attr("font-size", 25);
        bottomAxis.select(".domain").remove();
        bottomAxis.selectAll("text").attr("fill", "#000");

        var xl = g.append("text")
            .attr("x", x(0))
            .attr("y", 767)
            .attr("text-anchor", "middle")
            .attr("font-family", SERIF)
            .attr("font-size", 25);
        xl.append("tspan").text(xLabel[0]);
        xl.append("tspan").attr("dy", 5).attr("font-size", 18).text(xLabel[1]);
    }

    if (p.col == 0) {
        // species name, lower right of the panel
        var rl = g.append("text")
            .attr("x", [325, 277, 306][p.row])
            .attr("y", [184, 419, 651][p.row])
            .attr("font-family", SERIF)
            .attr("font-size", 25);
        rl.append("tspan").text(rowLabels[p.row][0]);
        if (rowLabels[p.row][1]) {
            rl.append("tspan").attr("dy", 7).attr("font-size", 19).text(rowLabels[p.row][1]);
        }
    }
}


DosGrid.prototype.drawLabels = function () {
    var self = this;

    // n_down / n_up markers in the first panel
    [67, 184].forEach(function (yy, i) {
        var t = self.svg.append("text")
            .attr("x", 28)
            .attr("y", yy)
            .attr("font-family", SERIF)
            .attr("font-size", 25);
        t.append("tspan").text(spinLabels[i][0]);
        t.append("tspan").attr("dy", 6).attr("font-size", 20).text(spinLabels[i][1]);
        t.append("tspan").attr("dy", -6).text(spinLabels[i][2]);
    });

    // legend
    var legendColors = [self.red, self.green];
    legendLabels.forEach(function (lab, i) {
        var yy = 505 + i * 26;
        var t = self.svg.append("text")
            .attr("x", 124)
            .attr("y", yy)
            .attr("text-anchor", "end")
            .attr("font-family", SERIF)
            .attr("font-size", 25);
        t.append("tspan").text(lab[0]);
        t.append("tspan").attr("dy", 6).attr("font-size", 20).text(lab[1]);

        self.svg.append("line")
            .attr("x1", 140).attr("x2", 152)
            .attr("y1", yy - 6).attr("y2", yy - 6)
            .attr("stroke", legendColors[i])
            .attr("stroke-width", 3);
    });
}

var dosGrid = new DosGrid("dosGrid");

</script>
</body>
</html>
